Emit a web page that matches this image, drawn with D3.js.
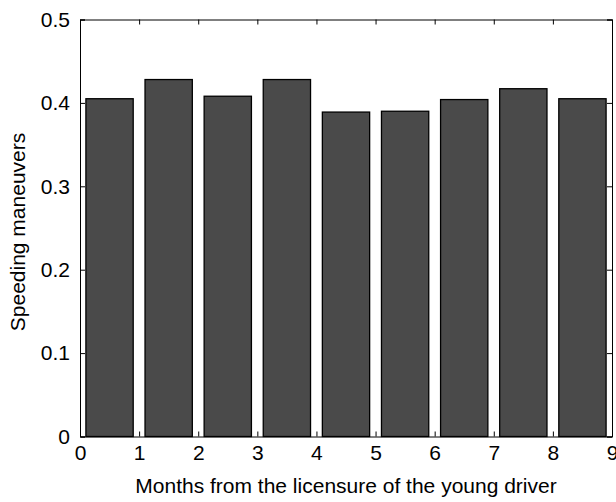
<!DOCTYPE html>
<html><head><meta charset="utf-8">
<script src="https://cdn.jsdelivr.net/npm/d3@7"></script>
<style>body{margin:0;background:#fff}</style>
</head><body>
<script>
const months = [0.5,1.5,2.5,3.5,4.5,5.5,6.5,7.5,8.5];
const values = [0.405,0.428,0.408,0.428,0.389,0.390,0.404,0.417,0.405];
const xTicks = [0,1,2,3,4,5,6,7,8,9];
const yTicks = [0,0.1,0.2,0.3,0.4,0.5];

const W=616,H=502;
const svg=d3.select("body").append("svg").attr("width",W).attr("height",H);
const x=d3.scaleLinear().domain([0,9]).range([80,612]);
const y=d3.scaleLinear().domain([0,0.5]).range([436.5,19.5]);
const font="'Liberation Sans',Arial,sans-serif";
const fs=21;

const bw=x(0.8)-x(0);
svg.append("g").selectAll("rect").data(values).join("rect")
 .attr("x",(d,i)=>x(months[i])-bw/2).attr("width",bw)
 .attr("y",d=>y(d)).attr("height",d=>y(0)-y(d))
 .attr("fill","#4a4a4a").attr("stroke","#000").attr("stroke-width",1.3);

const fmt=d=>d===0?"0":d3.format(".1f")(d);
const gx=svg.append("g").attr("transform",`translate(0,${y(0)})`)
 .call(d3.axisBottom(x).tickValues(xTicks).tickSize(-5).tickPadding(9).tickFormat(d3.format("d")));
const gxt=svg.append("g").attr("transform",`translate(0,${y(0.5)})`)
 .call(d3.axisTop(x).tickValues(xTicks).tickSize(-5).tickFormat(""));
const gy=svg.append("g").attr("transform",`translate(${x(0)},0)`)
 .call(d3.axisLeft(y).tickValues(yTicks).tickSize(-5).tickPadding(10).tickFormat(fmt));
const gyr=svg.append("g").attr("transform",`translate(${x(9)},0)`)
 .call(d3.axisRight(y).tickValues(yTicks).tickSize(-5).tickFormat(""));
[gx,gxt,gy,gyr].forEach(g=>{
 g.attr("font-size",fs).attr("font-family",font);
 g.select(".domain").attr("stroke","#000");
 g.selectAll(".tick line").attr("stroke","#000");
 g.selectAll("text").attr("fill","#000");
});
svg.append("text").attr("x",346).attr("y",493).attr("text-anchor","middle")
 .attr("font-family",font).attr("font-size",fs).text("Months from the licensure of the young driver");
svg.append("text").attr("transform","translate(25,232) rotate(-90)").attr("text-anchor","middle")
 .attr("font-family",font).attr("font-size",fs).text("Speeding maneuvers");
</script>
</body></html>
